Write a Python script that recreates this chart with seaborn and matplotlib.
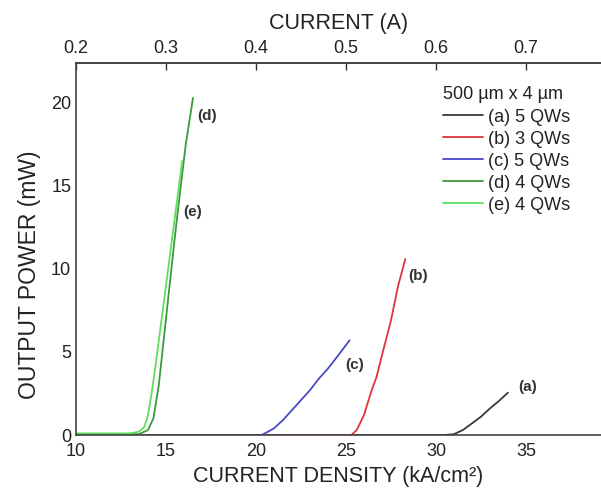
import numpy as np
import pandas as pd
import matplotlib
matplotlib.use("Agg")
import matplotlib.pyplot as plt
import seaborn as sns

# ---- data ----
a_x = [10, 20, 30.5, 31.0, 31.5, 32.0, 32.5, 33.0, 33.5, 34.0]
a_y = [0.0, 0.0, 0.0, 0.05, 0.3, 0.7, 1.1, 1.6, 2.05, 2.55]

b_x = [10, 20, 25.3, 25.6, 26.0, 26.4, 26.7, 27.0, 27.5, 27.9, 28.3]
b_y = [0.0, 0.0, 0.0, 0.3, 1.2, 2.6, 3.5, 4.8, 6.9, 9.0, 10.6]

c_x = [10, 15, 20.3, 20.5, 21.0, 21.5, 22.0, 22.5, 23.0, 23.5, 24.0, 24.5, 25.2]
c_y = [0.0, 0.0, 0.0, 0.1, 0.4, 0.9, 1.5, 2.1, 2.7, 3.4, 4.0, 4.7, 5.7]

d_x = [10, 13.5, 14.0, 14.3, 14.6, 14.9, 15.2, 15.5, 15.8, 16.1, 16.5]
d_y = [0.05, 0.05, 0.3, 1.0, 3.0, 6.0, 9.0, 12.0, 14.8, 17.5, 20.3]

e_x = [10, 13.0, 13.5, 13.8, 14.0, 14.2, 14.4, 14.7, 15.0, 15.3, 15.6, 15.9]
e_y = [0.1, 0.1, 0.2, 0.5, 1.2, 2.5, 4.0, 6.5, 9.0, 11.5, 14.0, 16.5]

series_labels = ["(a) 5 QWs", "(b) 3 QWs", "(c) 5 QWs", "(d) 4 QWs", "(e) 4 QWs"]
series_colors = ["#3a3a3a", "#e0343a", "#4848c8", "#3c9a3c", "#5ee05e"]
short_tags = ["(a)", "(b)", "(c)", "(d)", "(e)"]
tag_x = [35.1, 29.0, 25.5, 17.3, 16.5]
tag_y = [2.9, 9.6, 4.2, 19.2, 13.4]

x_ticks = [10, 15, 20, 25, 30, 35]
y_ticks = [0, 5, 10, 15, 20]
top_ticks = [0.2, 0.3, 0.4, 0.5, 0.6, 0.7]
area_cm2 = 500e-4 * 4e-4  # 500 um x 4 um

xs = [a_x, b_x, c_x, d_x, e_x]
ys = [a_y, b_y, c_y, d_y, e_y]
frames = []
for lab, x, y in zip(series_labels, xs, ys):
    frames.append(pd.DataFrame({"J": x, "P": y, "sample": lab}))
df = pd.concat(frames, ignore_index=True)

sns.set_theme(style="white")
plt.rcParams["font.family"] = ["Liberation Sans", "DejaVu Sans"]

fig = plt.figure(figsize=(6.01, 4.98), dpi=100)
ax = fig.add_axes([76 / 601, 1 - 435 / 498, (601 - 76) / 601, (435 - 63) / 498])

sns.lineplot(data=df, x="J", y="P", hue="sample", palette=series_colors,
             hue_order=series_labels, linewidth=1.3, ax=ax, sort=False,
             estimator=None)

ax.set_xlim(10, 39.17)
ax.set_ylim(0, 22.4)
ax.set_xticks(x_ticks)
ax.set_yticks(y_ticks)
ax.tick_params(axis="both", direction="in", length=5, width=1, labelsize=13,
               colors="#333333", labelcolor="#222222")
ax.tick_params(axis="x", pad=6)
ax.set_xlabel("CURRENT DENSITY (kA/cm²)", fontsize=15.5, color="#222222", labelpad=4)
ax.set_ylabel("OUTPUT POWER (mW)", fontsize=16.5, color="#222222")
ax.yaxis.set_label_coords(-0.066, 0.43)
for s in ["left", "bottom", "top"]:
    ax.spines[s].set_color("#444444")
    ax.spines[s].set_linewidth(1.2)
ax.spines["right"].set_visible(False)

conv = area_cm2 * 1000
sec = ax.secondary_xaxis("top", functions=(lambda j: j * conv, lambda i: i / conv))
sec.set_xticks(top_ticks)
sec.set_xticklabels([f"{t:.1f}" for t in top_ticks])
sec.tick_params(direction="in", length=5, width=1, labelsize=13, pad=4,
                colors="#333333", labelcolor="#222222")
sec.set_xlabel("CURRENT (A)", fontsize=15.5, color="#222222", labelpad=8)
sec.spines["top"].set_color("#444444")
sec.spines["top"].set_linewidth(1.2)

for t, tx, ty in zip(short_tags, tag_x, tag_y):
    ax.text(tx, ty, t, fontsize=11, fontweight="bold", color="#333333",
            ha="center", va="center")

leg = ax.legend(title="500 µm x 4 µm", frameon=False, loc="upper left",
                bbox_to_anchor=(443 / 601, 1 - 86 / 498),
                bbox_transform=fig.transFigure,
                fontsize=13, title_fontsize=13,
                handlelength=2.2, handletextpad=0.3, labelspacing=0.28,
                borderpad=0.0, borderaxespad=0.0)
leg._legend_box.align = "left"
leg._legend_box.sep = 4
for txt in leg.get_texts():
    txt.set_color("#222222")
leg.get_title().set_color("#222222")

fig.savefig("out.png", dpi=100)
